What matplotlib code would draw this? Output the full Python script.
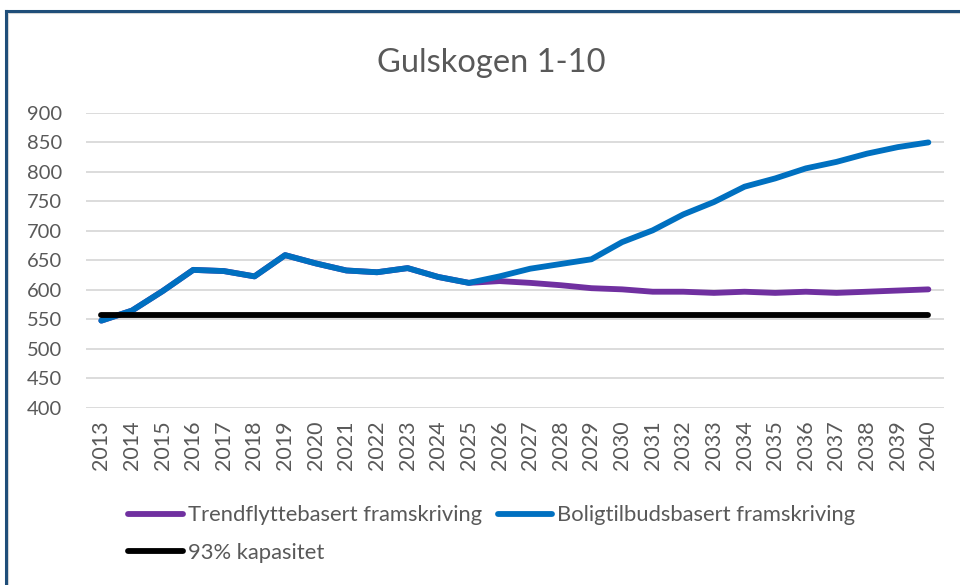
import matplotlib.pyplot as plt
from matplotlib.lines import Line2D

years = list(range(2013, 2041))
year_labels = [str(y) for y in years]

# Boligtilbudsbasert framskriving
bolig = [548, 565, 598, 634, 632, 623, 659, 645, 633, 630, 637, 622, 612,
         623, 636, 644, 652, 681, 701, 728, 749, 775, 789, 806, 817, 831, 842, 850]
# Trendflyttebasert framskriving
trend = [548, 565, 598, 634, 632, 623, 659, 645, 633, 630, 637, 622, 612,
         615, 612, 608, 603, 601, 597, 597, 595, 597, 595, 597, 595, 597, 599, 601]
# 93% kapasitet
kapasitet = [557] * len(years)

plt.rcParams['font.family'] = ['Lato', 'DejaVu Sans']
txt = '#595959'

fig = plt.figure(figsize=(9.6, 5.85), dpi=100)
ax = fig.add_axes([0.0896, 0.3026, 0.8934, 0.5044])

x = list(range(len(years)))
l1, = ax.plot(x, trend, color='#7030A0', lw=4.2, solid_capstyle='round',
              label='Trendflyttebasert framskriving')
l2, = ax.plot(x, bolig, color='#0070C0', lw=4.2, solid_capstyle='round',
              label='Boligtilbudsbasert framskriving')
l3, = ax.plot(x, kapasitet, color='black', lw=4.2, solid_capstyle='round',
              label='93% kapasitet')

ax.set_xlim(-0.5, len(years) - 0.5)
ax.set_ylim(400, 900)
ax.set_yticks(range(400, 901, 50))
ax.set_xticks(x)
ax.set_xticklabels(year_labels, rotation=90)
ax.tick_params(length=0, labelcolor=txt)
ax.tick_params(axis='y', labelsize=14.5, pad=17)
ax.tick_params(axis='x', labelsize=15.5, pad=9)
ax.grid(axis='y', color='#d9d9d9', lw=1.3)
ax.set_axisbelow(True)
for s in ax.spines.values():
    s.set_visible(False)

fig.text(0.512, 0.893, 'Gulskogen 1-10', ha='center', va='center',
         fontsize=23.5, color=txt)

leg = fig.legend(handles=[l1, l3, l2], ncol=2, loc='upper left',
                 bbox_to_anchor=(0.133, 0.136), frameon=False,
                 fontsize=15.8, handlelength=2.5, handletextpad=0.23,
                 columnspacing=0.72, labelspacing=0.78, borderaxespad=0,
                 borderpad=0)
for t in leg.get_texts():
    t.set_color(txt)

# chart border (left and top only visible)
fig.add_artist(Line2D([0.0083, 0.0083], [0, 0.978], color='#d9d9d9', lw=1.5))
fig.add_artist(Line2D([0.0083, 1], [0.978, 0.978], color='#d9d9d9', lw=1.5))
fig.add_artist(Line2D([0.0063, 0.0063], [0, 0.981], color='#1F4E79', lw=2.2))
fig.add_artist(Line2D([0.0063, 1], [0.981, 0.981], color='#1F4E79', lw=2.2))

fig.savefig('out.png', dpi=100)
